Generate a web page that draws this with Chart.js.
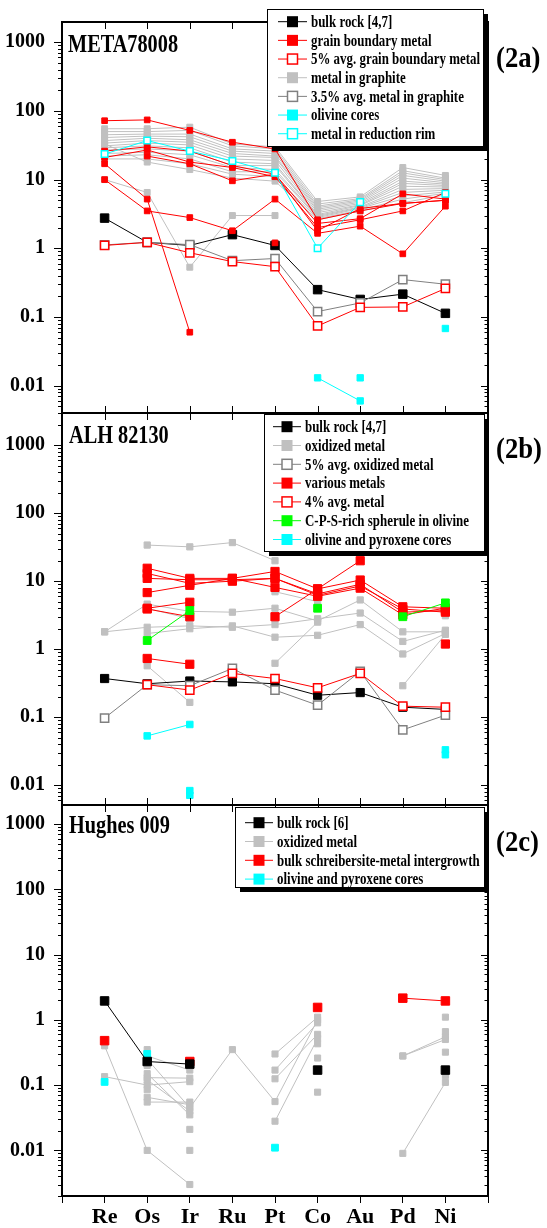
<!DOCTYPE html>
<html>
<head>
<meta charset="utf-8">
<script src="https://cdn.jsdelivr.net/npm/chart.js@4.4.1/dist/chart.umd.min.js"></script>
<style>
  html, body { margin: 0; padding: 0; background: #fff; }
  #wrap { position: relative; width: 547px; height: 1228px; }
  #wrap canvas { position: absolute; left: 0; top: 0; }
</style>
</head>
<body>
<div id="wrap">
  <canvas id="panelA" width="547" height="1228"></canvas>
  <canvas id="panelB" width="547" height="1228"></canvas>
  <canvas id="panelC" width="547" height="1228"></canvas>
</div>
<script>
// ---- categories & axes ----
const categories = ['Re', 'Os', 'Ir', 'Ru', 'Pt', 'Co', 'Au', 'Pd', 'Ni'];
const xTickPositions = [-1, 0, 1, 2, 3, 4, 5, 6, 7, 8, 9];
const yTickValues = [0.01, 0.1, 1, 10, 100, 1000];
const yTickLabels = ['0.01', '0.1', '1', '10', '100', '1000'];

// ---- (2a) META78008 ----
const aBulkRock = [2.75, 1.22, 1.1, 1.58, 1.1, 0.25, 0.18, 0.215, 0.113];
const aGrainAvg5 = [1.1, 1.22, 0.86, 0.64, 0.54, 0.074, 0.138, 0.14, 0.26];
const aGraphiteAvg35 = [1.12, 1.22, 1.13, 0.66, 0.71, 0.12, 0.16, 0.35, 0.30];
const aGrainBoundary = [
  [72, 74, 52, 35, 28, 2.6, 3.5, 4.5, 5.0],
  [26, 30, 26, 16, 12, 2.3, 2.7, 6.2, 5.2],
  [21, 27, 18, 15, 11, 2.0, 2.6, 3.5, 6.5],
  [17, 5.2, 0.06, null, null, null, null, null, null],
  [10, 3.5, 2.8, 1.8, 5.2, 1.65, 2.1, 0.83, 4.1],
  [null, 22, 17, 9.6, 12, 1.8, 3.8, 4.5, 5.0]
];
const aGrainIsoCat = ['Pt'];
const aGrainIsoVal = [1.2];
const aGraphite = [
  [55, 55, 58, 33, 30, 4.8, 5.6, 15, 11.5],
  [50, 50, 52, 31, 28, 4.4, 5.3, 13.5, 10.5],
  [45, 46, 46, 28, 26, 4.1, 5.1, 12.5, 10],
  [41, 43, 42, 26, 24, 3.9, 4.9, 11.5, 9.5],
  [37, 40, 38, 24, 22, 3.7, 4.7, 10.5, 9.0],
  [34, 37, 35, 22, 21, 3.5, 4.5, 9.5, 8.6],
  [31, 34, 32, 20, 19, 3.3, 4.3, 8.8, 8.2],
  [29, 31, 29, 18, 17, 3.1, 4.2, 8.0, 7.8],
  [27, 28, 26, 16, 16, 3.0, 4.0, 7.2, 7.4],
  [24, 25, 23, 15, 14, 2.9, 3.9, 6.5, 7.0],
  [22, 23, 20, 13, 13, 2.8, 3.8, 5.8, 6.6],
  [20, 20, 17, 12, 11, 2.7, 3.6, 5.2, 6.3],
  [33, 18, 14, 10.5, 9.5, 2.6, 3.5, 4.6, 6.0],
  [10, 6.5, 0.53, 3.0, 3.0, null, null, null, null]
];
const aOlivineCores = [null, null, null, null, null, 0.013, 0.006, null, null];
const aOlivineIsoCat = ['Au', 'Ni'];
const aOlivineIsoVal = [0.013, 0.068];
const aReductionRim = [23.5, 37, 26, 18.7, 12.6, 1.0, 4.7, null, 6.2];
const aLegendLabels = ['bulk rock [4,7]', 'grain boundary metal', '5% avg. grain boundary metal',
  'metal in graphite', '3.5% avg. metal in graphite', 'olivine cores', 'metal in reduction rim'];
const aLegendStyles = ['black', 'red', 'redOpen', 'gray', 'grayOpen', 'cyan', 'cyanOpen'];

// ---- (2b) ALH 82130 ----
const bBulkRock = [0.37, 0.31, 0.34, 0.33, 0.31, 0.21, 0.23, 0.14, 0.13];
const bOxidizedAvg5 = [0.097, 0.30, 0.29, 0.52, 0.25, 0.15, 0.47, 0.065, 0.107];
const bMetalAvg4 = [null, 0.30, 0.25, 0.44, 0.37, 0.27, 0.44, 0.145, 0.14];
const bOxidized = [
  [null, 34, 32, 37, 20, null, null, null, null],
  [1.8, 4.6, 3.6, 3.5, 4.0, 2.6, 5.3, 1.8, 1.8],
  [1.8, 2.1, 2.2, 2.1, 2.3, 2.8, 3.4, 1.3, 1.9],
  [null, 1.7, 2.0, 2.2, 1.5, 1.6, 2.3, 0.85, 1.7],
  [null, 4.0, 2.8, null, null, null, null, null, null],
  [null, 0.57, 0.165, null, null, null, null, null, null],
  [null, null, null, null, 0.62, 2.5, null, null, null],
  [null, null, null, null, 7.0, 5.0, null, null, null],
  [null, null, null, null, null, null, null, 0.29, 1.65]
];
const bOxidizedIsoCat = ['Ni'];
const bOxidizedIsoVal = [3.1];
const bVarious = [
  [null, 15.5, 11, 11, 13.9, 7.7, 10.4, 4.2, 4.0],
  [null, 13, 9.3, 10, 11, 6.5, 9.0, 3.5, 3.7],
  [null, 11, 10.5, 10.5, 11, 6.2, 8.5, 3.9, 3.5],
  [null, 6.8, 8.7, 11, 8.1, 6.0, 7.9, 3.2, 4.0],
  [null, null, null, null, 3.0, 7.7, 20, null, null],
  [null, 3.9, 3.0, null, null, null, null, null, null],
  [null, 4.0, 4.9, null, null, null, null, null, null],
  [null, 0.73, 0.6, null, null, null, null, null, null]
];
const bVariousIsoCat = ['Ni'];
const bVariousIsoVal = [1.19];
const bSpherule = [
  [null, 1.34, 3.7, null, null, null, null, null, null],
  [null, null, null, null, null, null, null, 3.0, 4.8]
];
const bSpheruleIsoCat = ['Co'];
const bSpheruleIsoVal = [4.0];
const bCores = [null, 0.053, 0.078, null, null, null, null, null, null];
const bCoresIsoCat = ['Ir', 'Ir', 'Ni', 'Ni'];
const bCoresIsoVal = [0.0083, 0.0071, 0.033, 0.028];
const bLegendLabels = ['bulk rock [4,7]', 'oxidized metal', '5% avg. oxidized metal', 'various metals',
  '4% avg. metal', 'C-P-S-rich spherule in olivine', 'olivine and pyroxene cores'];
const bLegendStyles = ['black', 'gray', 'grayOpen', 'red', 'redOpen', 'green', 'cyan'];

// ---- (2c) Hughes 009 ----
const cBulkRock = [1.95, 0.23, 0.21, null, null, null, null, null, null];
const cBulkIsoCat = ['Co', 'Ni'];
const cBulkIsoVal = [0.17, 0.17];
const cSchreibersite = [null, null, null, null, null, null, null, 2.15, 1.95];
const cSchreibIsoCat = ['Re', 'Ir', 'Co'];
const cSchreibIsoVal = [0.48, 0.23, 1.55];
const cCoresIsoCat = ['Re', 'Os', 'Pt'];
const cCoresIsoVal = [0.112, 0.30, 0.011];
const cOxidized = [
  [0.40, 0.010, 0.003, null, null, null, null, null, null],
  [0.135, 0.10, 0.113, null, null, null, null, null, null],
  [null, 0.13, 0.128, null, null, null, null, null, null],
  [null, 0.28, 0.17, null, null, null, null, null, null],
  [null, 0.25, 0.045, 0.35, 0.056, 1.0, null, null, null],
  [null, 0.15, 0.035, null, null, null, null, null, null],
  [null, 0.12, 0.04, null, null, null, null, null, null],
  [null, 0.065, 0.05, null, null, null, null, null, null],
  [null, 0.055, 0.055, null, null, null, null, null, null],
  [null, null, null, null, 0.30, 1.1, null, null, null],
  [null, null, null, null, 0.17, 0.9, null, null, null],
  [null, null, null, null, 0.125, 0.6, null, null, null],
  [null, null, null, null, 0.028, 0.52, null, null, null],
  [null, null, null, null, null, null, null, 0.28, 0.55],
  [null, null, null, null, null, null, null, 0.28, 0.50],
  [null, null, null, null, null, null, null, 0.009, 0.11]
];
const cOxidizedIsoCat = ['Os', 'Os', 'Os', 'Ir', 'Ir', 'Co', 'Co', 'Co', 'Ni', 'Ni', 'Ni', 'Ni'];
const cOxidizedIsoVal = [0.35, 0.2, 0.085, 0.021, 0.01, 0.43, 0.26, 0.078, 1.1, 0.66, 0.32, 0.14];
const cLegendLabels = ['bulk rock [6]', 'oxidized metal', 'bulk schreibersite-metal intergrowth', 'olivine and pyroxene cores'];
const cLegendStyles = ['black', 'gray', 'red', 'cyan'];

// ---- styles ----
const styles = {
  black:    { line: '#000000', fill: '#000000', edge: '#000000', open: false },
  red:      { line: '#ff0000', fill: '#ff0000', edge: '#ff0000', open: false },
  redOpen:  { line: '#ff0000', fill: '#ffffff', edge: '#ff0000', open: true },
  gray:     { line: '#c0c0c0', fill: '#c0c0c0', edge: '#c0c0c0', open: false },
  grayOpen: { line: '#808080', fill: '#ffffff', edge: '#808080', open: true },
  cyan:     { line: '#00ffff', fill: '#00ffff', edge: '#00ffff', open: false },
  cyanOpen: { line: '#00ffff', fill: '#ffffff', edge: '#00ffff', open: true },
  green:    { line: '#00ff00', fill: '#00ff00', edge: '#00ff00', open: false }
};
const SERIF = '"Liberation Serif", "Times New Roman", serif';

// turn a 9-value row into chart points
const toPoints = vals => vals.map((v, i) => ({ x: i, y: v }));
const isoPoints = (cats, vals) => cats.map((c, i) => ({ x: categories.indexOf(c), y: vals[i] }));

function makeSet(points, styleName, r, showLine = true) {
  const st = styles[styleName];
  return {
    data: points,
    showLine: showLine,
    spanGaps: false,
    borderColor: st.line,
    borderWidth: 1,
    pointStyle: 'rect',
    pointRadius: r,
    pointHoverRadius: r,
    pointBackgroundColor: st.fill,
    pointBorderColor: st.edge,
    pointBorderWidth: st.open ? 1.5 : 1
  };
}

function condensedText(ctx, text, x, y, font, sx, baseline) {
  ctx.save();
  ctx.font = font;
  ctx.fillStyle = '#000';
  ctx.textAlign = 'left';
  ctx.textBaseline = baseline || 'alphabetic';
  ctx.translate(x, y);
  ctx.scale(sx, 1);
  ctx.fillText(text, 0, 0);
  ctx.restore();
}

function drawLegend(ctx, lg) {
  ctx.fillStyle = '#000';
  ctx.fillRect(lg.x + 5, lg.y + 5, lg.w, lg.h);
  ctx.fillStyle = '#fff';
  ctx.fillRect(lg.x, lg.y, lg.w, lg.h);
  ctx.strokeStyle = '#000';
  ctx.lineWidth = 1;
  ctx.strokeRect(lg.x + 0.5, lg.y + 0.5, lg.w, lg.h);
  lg.labels.forEach((label, i) => {
    const st = styles[lg.styles[i]];
    const y = lg.row0 + i * lg.rowH;
    ctx.strokeStyle = st.line;
    ctx.lineWidth = 1;
    ctx.beginPath();
    ctx.moveTo(lg.lx0, y);
    ctx.lineTo(lg.lx1, y);
    ctx.stroke();
    if (st.open) {
      ctx.fillStyle = '#fff';
      ctx.fillRect(lg.mx - 5, y - 5, 10, 10);
      ctx.strokeStyle = st.edge;
      ctx.lineWidth = 1.5;
      ctx.strokeRect(lg.mx - 5, y - 5, 10, 10);
    } else {
      ctx.fillStyle = st.fill;
      ctx.fillRect(lg.mx - 5.5, y - 5.5, 11, 11);
    }
    condensedText(ctx, label, lg.tx, y + 1, 'bold 17px ' + SERIF, 0.76, 'middle');
  });
}

// frame, minor ticks, panel title, panel tag, legend
const panelDecor = {
  id: 'panelDecor',
  afterDraw(chart, args, opts) {
    const ctx = chart.ctx;
    const { left, right, top, bottom } = chart.chartArea;
    const xs = chart.scales.x, ys = chart.scales.y;
    ctx.save();
    ctx.strokeStyle = '#000';
    ctx.lineWidth = 1;
    ctx.beginPath();
    for (let d = -3; d <= 4; d++) {
      for (let m = 1; m <= 9; m++) {
        const v = m * Math.pow(10, d);
        if (v < ys.min || v > ys.max) continue;
        const y = Math.round(ys.getPixelForValue(v)) + 0.5;
        const L = m === 1 ? 8 : 4;
        const R = m === 1 ? 7 : 3.5;
        ctx.moveTo(left - L, y); ctx.lineTo(left, y);
        ctx.moveTo(right - R, y); ctx.lineTo(right, y);
      }
    }
    for (let i = 0; i < categories.length; i++) {
      const x = Math.round(xs.getPixelForValue(i)) + 0.5;
      ctx.moveTo(x, top); ctx.lineTo(x, top + 7);
      if (!opts.bottomOut) { ctx.moveTo(x, bottom); ctx.lineTo(x, bottom - 7); }
    }
    ctx.stroke();
    ctx.lineWidth = 2;
    ctx.strokeRect(left, top, right - left, bottom - top);

    condensedText(ctx, opts.title, opts.titleX, opts.titleY, 'bold 26px ' + SERIF, 0.78);
    condensedText(ctx, opts.tag, 496, opts.tagY, 'bold 29px ' + SERIF, 0.92);
    drawLegend(ctx, opts.legend);
    ctx.restore();
  }
};

function buildPanel(id, yMin, yMax, padTop, padBottom, showX, datasets, deco) {
  return new Chart(document.getElementById(id), {
    type: 'line',
    data: { datasets: datasets },
    plugins: [panelDecor],
    options: {
      responsive: false,
      animation: false,
      events: [],
      layout: { padding: { top: padTop, bottom: padBottom, left: 0, right: 59 } },
      plugins: { legend: { display: false }, tooltip: { enabled: false }, panelDecor: deco },
      scales: {
        x: {
          type: 'linear', min: -1, max: 9, display: showX,
          afterBuildTicks: s => { s.ticks = xTickPositions.map(v => ({ value: v })); },
          afterFit: s => { s.height = showX ? 32 : 0; },
          grid: { drawOnChartArea: false, drawTicks: true, tickLength: 7, color: '#000', lineWidth: 1 },
          border: { display: false },
          ticks: {
            autoSkip: false, maxRotation: 0, padding: 1, color: '#000',
            font: { family: SERIF, weight: 'bold', size: 22 },
            callback: v => categories[v] || ''
          }
        },
        y: {
          type: 'logarithmic', min: yMin, max: yMax,
          afterBuildTicks: s => { s.ticks = yTickValues.map(v => ({ value: v })); },
          afterFit: s => { s.width = 62; },
          grid: { display: false },
          border: { display: false },
          ticks: {
            padding: 9, color: '#000',
            font: { family: SERIF, weight: 'bold', size: 20 },
            callback: v => yTickLabels[yTickValues.indexOf(v)] || ''
          }
        }
      }
    }
  });
}

// ---- panel (2a) ----
const setsA = [];
setsA.push(makeSet(toPoints(aReductionRim), 'cyanOpen', 4.6));
setsA.push(makeSet(toPoints(aOlivineCores), 'cyan', 4.5));
setsA.push(makeSet(isoPoints(aOlivineIsoCat, aOlivineIsoVal), 'cyan', 4.5, false));
aGrainBoundary.forEach(row => setsA.push(makeSet(toPoints(row), 'red', 4)));
setsA.push(makeSet(isoPoints(aGrainIsoCat, aGrainIsoVal), 'red', 4, false));
setsA.push(makeSet(toPoints(aGrainAvg5), 'redOpen', 5.8));
setsA.push(makeSet(toPoints(aGraphiteAvg35), 'grayOpen', 5.8));
setsA.push(makeSet(toPoints(aBulkRock), 'black', 6));
aGraphite.forEach(row => setsA.push(makeSet(toPoints(row), 'gray', 4.2)));

buildPanel('panelA', 0.004, 1970, 22, 815, false, setsA, {
  title: 'META78008', titleX: 68, titleY: 52, tag: '(2a)', tagY: 67,
  legend: { x: 267, y: 9, w: 216, h: 137, row0: 21.7, rowH: 18.67, lx0: 278, lx1: 307, mx: 292.5, tx: 311,
            labels: aLegendLabels, styles: aLegendStyles }
});

// ---- panel (2b) ----
const setsB = [];
setsB.push(makeSet(toPoints(bCores), 'cyan', 4.6));
setsB.push(makeSet(isoPoints(bCoresIsoCat, bCoresIsoVal), 'cyan', 4.6, false));
bSpherule.forEach(row => setsB.push(makeSet(toPoints(row), 'green', 5.5)));
setsB.push(makeSet(isoPoints(bSpheruleIsoCat, bSpheruleIsoVal), 'green', 5.5, false));
setsB.push(makeSet(toPoints(bMetalAvg4), 'redOpen', 5.8));
bVarious.forEach(row => setsB.push(makeSet(toPoints(row), 'red', 5.8)));
setsB.push(makeSet(isoPoints(bVariousIsoCat, bVariousIsoVal), 'red', 5.8, false));
setsB.push(makeSet(toPoints(bOxidizedAvg5), 'grayOpen', 5.8));
setsB.push(makeSet(toPoints(bBulkRock), 'black', 5.8));
bOxidized.forEach(row => setsB.push(makeSet(toPoints(row), 'gray', 4.4)));
setsB.push(makeSet(isoPoints(bOxidizedIsoCat, bOxidizedIsoVal), 'gray', 4.4, false));

buildPanel('panelB', 0.0051, 2980, 413, 423, false, setsB, {
  title: 'ALH 82130', titleX: 69, titleY: 443, tag: '(2b)', tagY: 458,
  legend: { x: 264, y: 414, w: 220, h: 137, row0: 426.7, rowH: 18.8, lx0: 273, lx1: 301, mx: 287, tx: 305,
            labels: bLegendLabels, styles: bLegendStyles }
});

// ---- panel (2c) ----
const setsC = [];
setsC.push(makeSet(toPoints(cBulkRock), 'black', 6));
setsC.push(makeSet(isoPoints(cBulkIsoCat, cBulkIsoVal), 'black', 6, false));
setsC.push(makeSet(isoPoints(cCoresIsoCat, cCoresIsoVal), 'cyan', 4.8, false));
setsC.push(makeSet(toPoints(cSchreibersite), 'red', 6));
setsC.push(makeSet(isoPoints(cSchreibIsoCat, cSchreibIsoVal), 'red', 6, false));
cOxidized.forEach(row => setsC.push(makeSet(toPoints(row), 'gray', 4.3)));
setsC.push(makeSet(isoPoints(cOxidizedIsoCat, cOxidizedIsoVal), 'gray', 4.3, false));

buildPanel('panelC', 0.002, 1960, 805, 0, true, setsC, {
  title: 'Hughes 009', titleX: 69, titleY: 833, tag: '(2c)', tagY: 851, bottomOut: true,
  legend: { x: 235, y: 807, w: 249, h: 80, row0: 822.7, rowH: 18.8, lx0: 245, lx1: 273, mx: 259, tx: 277,
            labels: cLegendLabels, styles: cLegendStyles }
});
</script>
</body>
</html>
